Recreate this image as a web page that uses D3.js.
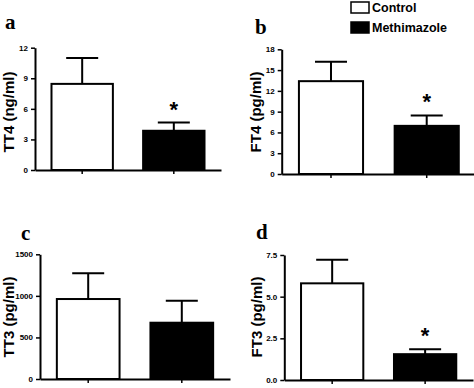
<!DOCTYPE html>
<html>
<head>
<meta charset="utf-8">
<script src="https://cdn.jsdelivr.net/npm/d3@7"></script>
<style>
  body { margin: 0; background: #fff; }
  svg { display: block; }
  text { font-family: "Liberation Sans", Arial, sans-serif; font-weight: bold; }
</style>
</head>
<body>
<svg id="fig" width="474" height="388"></svg>
<script>
// groups
var categories = ["Control", "Methimazole"];

// means and SEM
var tt4Mean = [8.45, 3.85], tt4Sem = [2.55, 0.8];
var ft4Mean = [13.4, 6.95], ft4Sem = [2.8, 1.5];
var tt3Mean = [962, 677],   tt3Sem = [309, 265];
var ft3Mean = [5.8, 1.55],  ft3Sem = [1.42, 0.3];

// tick labels of each y axis
var tt4Ticks = [0, 3, 6, 9, 12];
var ft4Ticks = [0, 3, 6, 9, 12, 15, 18];
var tt3Ticks = [0, 500, 1000, 1500];
var ft3Ticks = [0, 2.5, 5, 7.5];

// significance marks (*)
var tt4Star = [false, true];
var ft4Star = [false, true];
var tt3Star = [false, false];
var ft3Star = [false, true];

var svg = d3.select("#fig");
var fills = d3.scaleOrdinal().domain(categories).range(["#fff", "#000"]);

// panel layout (positions only)
var panels = [
  {letter: "a", title: "TT4 (ng/ml)", mean: tt4Mean, sem: tt4Sem, ticks: tt4Ticks, star: tt4Star, fmt: d3.format("d"),
   x0: 35, x1: 221, top: 47.7, zero: 170, lx: 5, ly: 28.5, tx: 9, ty: 112},
  {letter: "b", title: "FT4 (pg/ml)", mean: ft4Mean, sem: ft4Sem, ticks: ft4Ticks, star: ft4Star, fmt: d3.format("d"),
   x0: 281.7, x1: 476, top: 49.3, zero: 174, lx: 255, ly: 34, tx: 256, ty: 112},
  {letter: "c", title: "TT3 (pg/ml)", mean: tt3Mean, sem: tt3Sem, ticks: tt3Ticks, star: tt3Star, fmt: d3.format("d"),
   x0: 40, x1: 230, top: 254.3, zero: 379, lx: 21, ly: 240, tx: 9, ty: 317},
  {letter: "d", title: "FT3 (pg/ml)", mean: ft3Mean, sem: ft3Sem, ticks: ft3Ticks, star: ft3Star, fmt: d3.format(".1f"),
   x0: 284.3, x1: 473, top: 255, zero: 380, lx: 256, ly: 238.5, tx: 256.5, ty: 317}
];

panels.forEach(function(p) {
  var g = svg.append("g");
  var rows = categories.map(function(c, i) { return {cat: c, mean: p.mean[i], sem: p.sem[i], star: p.star[i]}; });

  var x = d3.scaleBand().domain(categories).range([p.x0, p.x1]).paddingInner(0.33).paddingOuter(0.18);
  var y = d3.scaleLinear().domain([0, d3.max(p.ticks)]).range([p.zero, p.top]);

  // bars
  g.selectAll(".bar").data(rows).enter().append("rect")
    .attr("x", function(d) { return x(d.cat); })
    .attr("y", function(d) { return y(d.mean); })
    .attr("width", x.bandwidth())
    .attr("height", function(d) { return y(0) - y(d.mean); })
    .attr("fill", function(d) { return fills(d.cat); })
    .attr("stroke", "#000")
    .attr("stroke-width", 2);

  // upper error bars
  var cap = 16;
  g.selectAll(".err").data(rows).enter().append("path")
    .attr("d", function(d) {
      var cx = x(d.cat) + x.bandwidth() / 2, yt = y(d.mean + d.sem);
      return "M" + cx + "," + y(d.mean) + "V" + yt + "M" + (cx - cap) + "," + yt + "H" + (cx + cap);
    })
    .attr("fill", "none").attr("stroke", "#000").attr("stroke-width", 2);

  // asterisks
  g.selectAll(".star").data(rows.filter(function(d) { return d.star; })).enter().append("text")
    .attr("x", function(d) { return x(d.cat) + x.bandwidth() / 2; })
    .attr("y", function(d) { return y(d.mean + d.sem) - 6; })
    .attr("text-anchor", "middle")
    .attr("font-size", 22)
    .text("*");

  // y axis
  var ya = g.append("g").attr("transform", "translate(" + p.x0 + ",0)")
    .call(d3.axisLeft(y).tickValues(p.ticks).tickFormat(p.fmt).tickSize(4).tickSizeOuter(0).tickPadding(3));
  ya.select(".domain").attr("stroke-width", 2);
  ya.selectAll(".tick line").attr("stroke-width", 1.5);
  ya.selectAll("text").attr("font-size", 8);

  // x axis
  var xa = g.append("g").attr("transform", "translate(0," + p.zero + ")")
    .call(d3.axisBottom(x).tickSize(4).tickSizeOuter(0).tickFormat(""));
  xa.select(".domain").attr("stroke-width", 2);
  xa.selectAll(".tick line").attr("stroke-width", 1.5);

  // y title
  g.append("text")
    .attr("transform", "translate(" + p.tx + "," + p.ty + ") rotate(-90)")
    .attr("dy", "0.35em")
    .attr("text-anchor", "middle")
    .attr("font-size", 15)
    .text(p.title);

  // panel letter
  g.append("text")
    .attr("x", p.lx).attr("y", p.ly)
    .style("font-family", "'Liberation Serif', 'Times New Roman', serif")
    .attr("font-size", 21)
    .text(p.letter);
});

// legend
var legend = svg.append("g").selectAll("g").data(categories).enter().append("g")
  .attr("transform", function(d, i) { return "translate(351," + (2 + i * 20) + ")"; });
legend.append("rect")
  .attr("width", 18).attr("height", 11)
  .attr("fill", fills).attr("stroke", "#000").attr("stroke-width", 1.5);
legend.append("text")
  .attr("x", 21).attr("y", 10)
  .attr("font-size", 12.5)
  .text(function(d) { return d; });
</script>
</body>
</html>
